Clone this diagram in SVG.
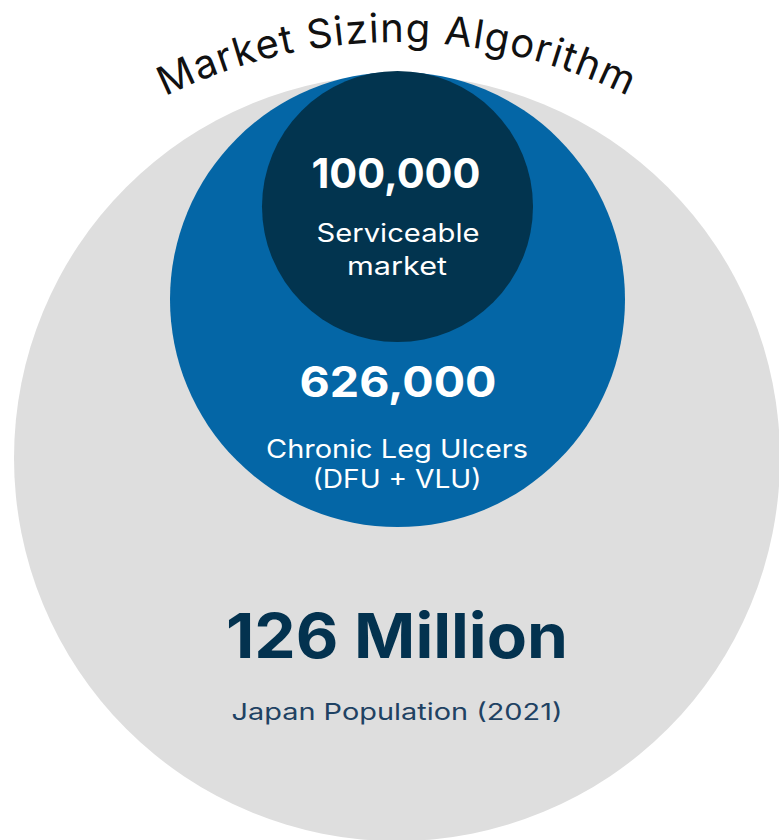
<svg xmlns="http://www.w3.org/2000/svg" width="779" height="840" viewBox="0 0 779 840">
  <defs>
    <style>
      .t { font-family: Inter, "Open Sans", "Noto Sans", sans-serif; text-anchor: middle; }
      .num { font-weight: 700; }
      .white { fill: #ffffff; }
      .navy { fill: #03324f; }
      .title { font-family: Inter, "Open Sans", "Noto Sans", sans-serif; font-size: 40px; font-weight: 400; letter-spacing: 1.2px; fill: #111111; }
    </style>
    <path id="titleArc" d="M 99 136 A 520 520 0 0 1 695 136"/>
  </defs>
  <rect width="779" height="840" fill="#ffffff"/>

  <!-- outer ring: total population -->
  <g id="population">
    <circle cx="397" cy="458" r="383" fill="#dedede"/>
    <text class="t num navy" x="397" y="658" font-size="62" textLength="342" lengthAdjust="spacingAndGlyphs">126 Million</text>
    <text class="t" x="397" y="720" font-size="23" fill="#1f4263" textLength="331" lengthAdjust="spacingAndGlyphs">Japan Population (2021)</text>
  </g>

  <!-- middle ring: chronic leg ulcers -->
  <g id="ulcers">
    <circle cx="397.5" cy="299.5" r="227.5" fill="#0466a6"/>
    <text class="t num white" x="398" y="397" font-size="42" textLength="197" lengthAdjust="spacingAndGlyphs">626,000</text>
    <text class="t white" x="397" y="458" font-size="25" textLength="262" lengthAdjust="spacingAndGlyphs">Chronic Leg Ulcers</text>
    <text class="t white" x="397" y="488" font-size="25" textLength="169" lengthAdjust="spacingAndGlyphs">(DFU + VLU)</text>
  </g>

  <!-- inner ring: serviceable market -->
  <g id="serviceable">
    <circle cx="397.5" cy="206.5" r="135.5" fill="#02344f"/>
    <text class="t num white" x="396" y="188" font-size="41" textLength="169" lengthAdjust="spacingAndGlyphs">100,000</text>
    <text class="t white" x="398" y="242" font-size="25" textLength="163" lengthAdjust="spacingAndGlyphs">Serviceable</text>
    <text class="t white" x="397" y="275" font-size="25" textLength="100" lengthAdjust="spacingAndGlyphs">market</text>
  </g>

  <!-- curved heading -->
  <g id="heading">
    <text class="title" text-anchor="middle"><textPath href="#titleArc" startOffset="50%">Market Sizing Algorithm</textPath></text>
  </g>
</svg>
